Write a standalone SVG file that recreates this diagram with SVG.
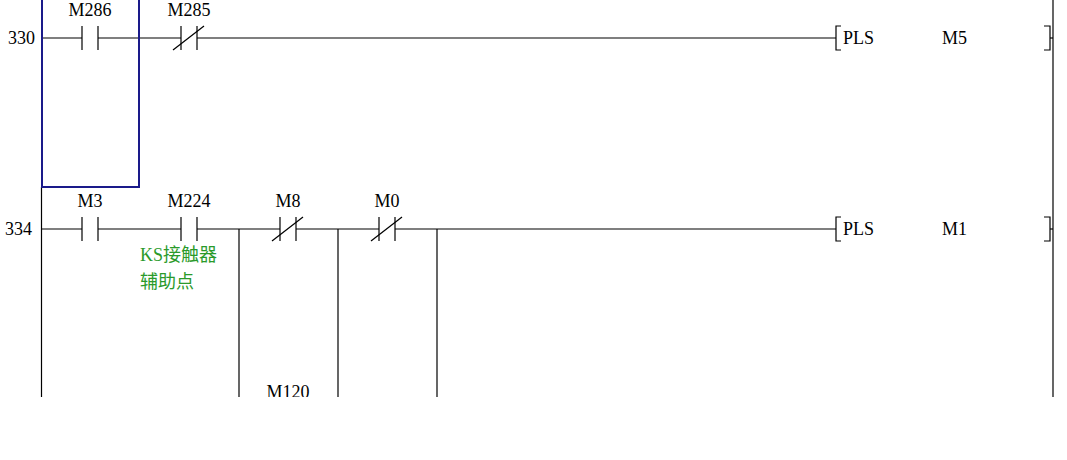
<svg xmlns="http://www.w3.org/2000/svg" width="1067" height="460" viewBox="0 0 1067 460">
<style>
.w{stroke:#000;stroke-width:1.2;fill:none}
.t{font-family:"Liberation Serif","Noto Sans CJK SC",serif;font-size:18px;fill:#000}
.c{font-family:"Liberation Serif","Noto Sans CJK SC",serif;font-size:18px;fill:#2a9a2a}
</style>
<defs>
<clipPath id="clip"><rect x="0" y="0" width="1067" height="397"/></clipPath>
<g id="no"><line class="w" x1="0" y1="-12" x2="0" y2="12"/><line class="w" x1="16" y1="-12" x2="16" y2="12"/></g>
<g id="nc"><line class="w" x1="0" y1="-12" x2="0" y2="12"/><line class="w" x1="16" y1="-12" x2="16" y2="12"/><line class="w" x1="-8" y1="12" x2="23" y2="-12"/></g>
</defs>
<rect width="1067" height="460" fill="#fff"/>
<g clip-path="url(#clip)">
<g id="connectors">
<line x1="42" y1="0" x2="42" y2="187" stroke="#e8e0a0" stroke-width="1.2"/>
<line class="w" x1="41.5" y1="187" x2="41.5" y2="397"/>
<line class="w" x1="1053" y1="0" x2="1053" y2="397"/>
<polyline class="w" points="42,38 82,38"/><line class="w" x1="98" y1="38" x2="181" y2="38"/><line class="w" x1="197" y1="38" x2="836" y2="38"/>
<line class="w" x1="42" y1="229" x2="82" y2="229"/><line class="w" x1="98" y1="229" x2="181" y2="229"/><line class="w" x1="197" y1="229" x2="280" y2="229"/><line class="w" x1="296" y1="229" x2="379" y2="229"/><line class="w" x1="395" y1="229" x2="836" y2="229"/>
<line class="w" x1="239" y1="229" x2="239" y2="397"/>
<line class="w" x1="338" y1="229" x2="338" y2="397"/>
<line class="w" x1="437" y1="229" x2="437" y2="397"/>
<line class="w" x1="1050" y1="38" x2="1053" y2="38"/>
<line class="w" x1="1050" y1="229" x2="1053" y2="229"/>
</g>
<rect x="42" y="-2" width="97" height="189" fill="none" stroke="#1a1a8a" stroke-width="2"/>
<g id="rung330">
<text class="t" x="8" y="44">330</text>
<g id="M286"><use href="#no" x="82" y="38"/><text class="t" x="90" y="16" text-anchor="middle">M286</text></g>
<g id="M285"><use href="#nc" x="181" y="38"/><text class="t" x="189" y="16" text-anchor="middle">M285</text></g>
<g id="PLS_M5"><polyline class="w" points="841,26 836,26 836,50 841,50"/><polyline class="w" points="1044,26 1050,26 1050,50 1044,50"/><text class="t" x="843" y="44">PLS</text><text class="t" x="942" y="44">M5</text></g>
</g>
<g id="rung334">
<text class="t" x="5" y="235">334</text>
<g id="M3"><use href="#no" x="82" y="229"/><text class="t" x="90" y="207" text-anchor="middle">M3</text></g>
<g id="M224"><use href="#no" x="181" y="229"/><text class="t" x="189" y="207" text-anchor="middle">M224</text><text class="c" x="140" y="261">KS接触器</text><text class="c" x="140" y="288">辅助点</text></g>
<g id="M8"><use href="#nc" x="280" y="229"/><text class="t" x="288" y="207" text-anchor="middle">M8</text></g>
<g id="M0"><use href="#nc" x="379" y="229"/><text class="t" x="387" y="207" text-anchor="middle">M0</text></g>
<g id="M120"><text class="t" x="288" y="398" text-anchor="middle">M120</text></g>
<g id="PLS_M1"><polyline class="w" points="841,217 836,217 836,241 841,241"/><polyline class="w" points="1044,217 1050,217 1050,241 1044,241"/><text class="t" x="843" y="235">PLS</text><text class="t" x="942" y="235">M1</text></g>
</g>
</g>
</svg>
